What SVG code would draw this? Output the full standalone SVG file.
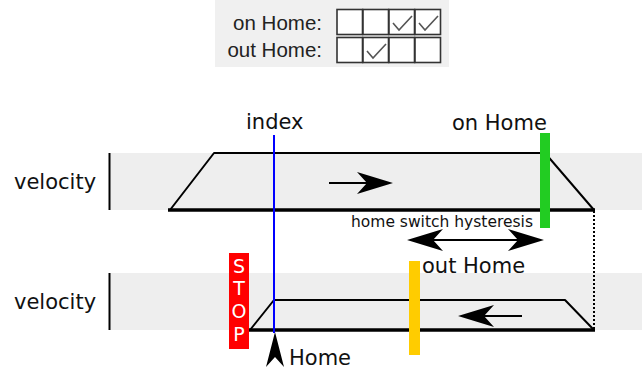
<svg xmlns="http://www.w3.org/2000/svg" width="642" height="369" viewBox="0 0 642 369">
<style>
.lbl{font-family:"DejaVu Sans",Verdana,sans-serif;font-size:21px;fill:#111}
.small{font-family:"DejaVu Sans",Verdana,sans-serif;font-size:15.5px;fill:#111}
.tb{font-family:"Liberation Sans",Arial,sans-serif;font-size:20.5px;fill:#222}
.cell{fill:#fff;stroke:#333;stroke-width:1.6}
.chk{fill:none;stroke:#555;stroke-width:1.6}
.band{fill:#eeeeee}
.thin{fill:none;stroke:#000;stroke-width:2;stroke-linejoin:round}
.thick{stroke:#000;stroke-width:3.5}
.stop{font-family:"DejaVu Sans",Verdana,sans-serif;font-size:19px;fill:#fff;text-anchor:middle}
</style>
<defs>
<path id="ah" d="M0,0 L-36,-11 L-26,0 L-36,11 Z"/>
</defs>
<g id="legend">
<rect x="215" y="0" width="234" height="67" fill="#f0f0f0"/>
<text class="tb" x="322" y="30" text-anchor="end">on Home:</text>
<text class="tb" x="322" y="57" text-anchor="end">out Home:</text>
<rect class="cell" x="337" y="9.5" width="25.5" height="25"/>
<rect class="cell" x="363" y="9.5" width="25.5" height="25"/>
<rect class="cell" x="389" y="9.5" width="25.5" height="25"/>
<rect class="cell" x="415" y="9.5" width="25.5" height="25"/>
<rect class="cell" x="337" y="37.5" width="25.5" height="25"/>
<rect class="cell" x="363" y="37.5" width="25.5" height="25"/>
<rect class="cell" x="389" y="37.5" width="25.5" height="25"/>
<rect class="cell" x="415" y="37.5" width="25.5" height="25"/>
<path class="chk" d="M393,23 L399,30 L412,16"/>
<path class="chk" d="M419,23 L425,30 L438,16"/>
<path class="chk" d="M367,51 L373,58 L386,44"/>
</g>
<g id="upper">
<rect class="band" x="110" y="153" width="532" height="57"/>
<line x1="109.5" y1="153" x2="109.5" y2="210" stroke="#000" stroke-width="2"/>
<text class="lbl" x="14" y="189">velocity</text>
<path class="thin" d="M170,210 L214,153 L545,153 L594,210"/>
<line class="thick" x1="168" y1="210" x2="595" y2="210"/>
</g>
<g id="lower">
<rect class="band" x="110" y="273" width="532" height="57"/>
<line x1="109.5" y1="273" x2="109.5" y2="330" stroke="#000" stroke-width="2"/>
<text class="lbl" x="14" y="309">velocity</text>
<path class="thin" d="M250,330 L274,300 L565,300 L594,330"/>
<line class="thick" x1="249" y1="330" x2="595" y2="330"/>
</g>
<g id="connectors">
<line x1="274" y1="135" x2="274" y2="333" stroke="#0000ff" stroke-width="2"/>
<line x1="594" y1="211" x2="594" y2="329" stroke="#000" stroke-width="2" stroke-dasharray="2,2"/>
<line x1="329" y1="183" x2="370" y2="183" stroke="#000" stroke-width="2"/>
<use href="#ah" transform="translate(393,183)"/>
<line x1="522" y1="316" x2="480" y2="316" stroke="#000" stroke-width="2"/>
<use href="#ah" transform="translate(458,316) rotate(180)"/>
<line x1="425" y1="240" x2="525" y2="240" stroke="#000" stroke-width="2"/>
<use href="#ah" transform="translate(544,240)"/>
<use href="#ah" transform="translate(407,240) rotate(180)"/>
<path d="M275,332 L284,367 L275,357 L266,367 Z" fill="#000"/>
</g>
<g id="index">
<text class="lbl" x="246" y="129">index</text>
</g>
<g id="onhome">
<rect x="540" y="133" width="10" height="95" fill="#22cc22"/>
<text class="lbl" x="452" y="130">on Home</text>
</g>
<g id="hysteresis">
<text class="small" x="351" y="227">home switch hysteresis</text>
</g>
<g id="outhome">
<rect x="409" y="261" width="11" height="94" fill="#ffcc00"/>
<text class="lbl" x="422" y="273">out Home</text>
</g>
<g id="stop">
<rect x="229" y="253" width="20" height="96" fill="#ff0000"/>
<text class="stop" x="239" y="273">S</text>
<text class="stop" x="239" y="295">T</text>
<text class="stop" x="239" y="318">O</text>
<text class="stop" x="239" y="341">P</text>
</g>
<g id="home">
<text class="lbl" x="289" y="365">Home</text>
</g>
</svg>
